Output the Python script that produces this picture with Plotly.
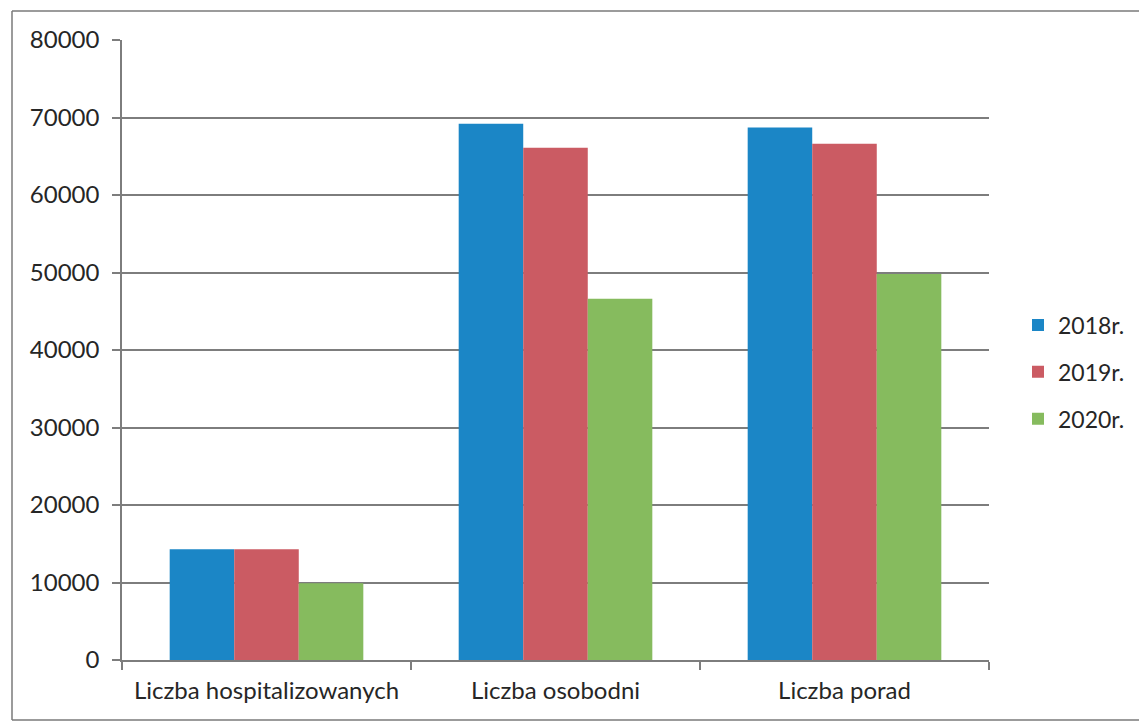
import plotly.graph_objects as go

categories = ["Liczba hospitalizowanych", "Liczba osobodni", "Liczba porad"]
series_names = ["2018r.", "2019r.", "2020r."]
values_2018 = [14300, 69200, 68700]
values_2019 = [14300, 66100, 66600]
values_2020 = [9900, 46600, 49800]
y_ticks = [0, 10000, 20000, 30000, 40000, 50000, 60000, 70000, 80000]

colors = ["#1b86c6", "#cb5b63", "#86bb5e"]
font_family = "Lato, 'Open Sans', sans-serif"

fig = go.Figure()
for name, vals, col in zip(series_names, [values_2018, values_2019, values_2020], colors):
    fig.add_trace(go.Bar(
        x=categories, y=vals, name=name, legendgroup=name,
        marker=dict(color=col, line=dict(width=0)),
    ))

# plot area geometry (px) used for the outer frame and legend
L, R, T, B = 122, 150, 40, 63
W, H = 1139, 723
pw, ph = W - L - R, H - T - B


def px_x(v):
    return (v - L) / pw


def px_y(v):
    return (ph + T - v) / ph


frame_style = dict(color="#7a7a7a", width=1.5)
frame = [
    dict(type="line", xref="paper", yref="paper", layer="below", line=frame_style,
         x0=px_x(12), x1=px_x(12), y0=px_y(11), y1=px_y(720)),
    dict(type="line", xref="paper", yref="paper", layer="below", line=frame_style,
         x0=px_x(12), x1=px_x(W + 5), y0=px_y(11), y1=px_y(11)),
    dict(type="line", xref="paper", yref="paper", layer="below", line=frame_style,
         x0=px_x(12), x1=px_x(W + 5), y0=px_y(720), y1=px_y(720)),
]

fig.update_layout(
    width=W, height=H,
    margin=dict(l=L, r=R, t=T, b=B, autoexpand=False),
    paper_bgcolor="white", plot_bgcolor="white",
    barmode="group", bargap=0.33, bargroupgap=0,
    font=dict(family=font_family, color="#262626"),
    showlegend=True,
    legend=dict(
        x=px_x(1018), y=px_y(372), xanchor="left", yanchor="middle",
        font=dict(size=23, color="#262626"),
        tracegroupgap=14, itemwidth=30,
        bgcolor="rgba(0,0,0,0)",
    ),
    shapes=frame,
)

fig.update_yaxes(
    range=[0, 80000], tickvals=y_ticks, ticktext=[str(v) for v in y_ticks],
    showgrid=True, gridcolor="#7d7d7d", gridwidth=1.5,
    showline=True, linecolor="#7d7d7d", linewidth=1.5,
    ticks="outside", ticklen=8, tickcolor="#7d7d7d", tickwidth=1.5,
    tickfont=dict(size=24, color="#262626"), ticklabelstandoff=8,
    zeroline=False,
)
fig.update_xaxes(
    showline=True, linecolor="#7d7d7d", linewidth=1.5,
    ticks="outside", tickson="boundaries", ticklen=8, tickcolor="#7d7d7d", tickwidth=1.5,
    tickfont=dict(size=24, color="#262626"), ticklabelstandoff=8,
    showgrid=False,
)

fig.write_html("out.html")
